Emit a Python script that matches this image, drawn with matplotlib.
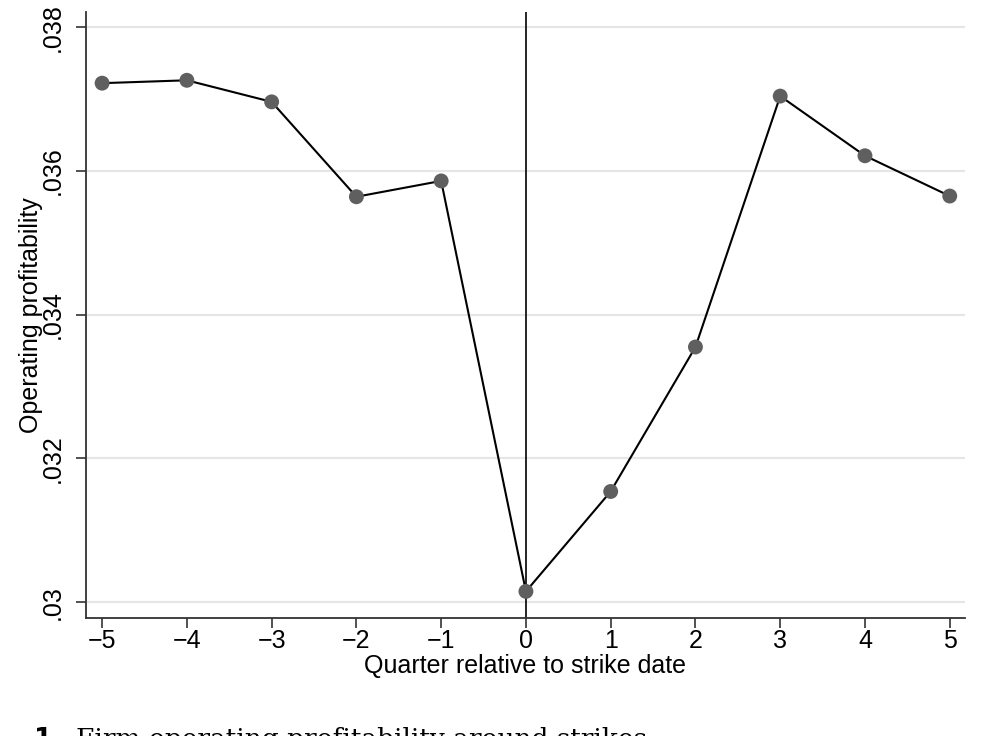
import numpy as np
import matplotlib
matplotlib.use("Agg")
import matplotlib.pyplot as plt
from matplotlib.ticker import FuncFormatter

# quarters relative to strike and mean operating profitability
quarters = [-5, -4, -3, -2, -1, 0, 1, 2, 3, 4, 5]
profit = [0.03722, 0.03726, 0.03696, 0.03564, 0.03586, 0.03015,
          0.03154, 0.03355, 0.03704, 0.03621, 0.03565]
yticks = [0.030, 0.032, 0.034, 0.036, 0.038]
xticks = list(range(-5, 6))

plt.rcParams['font.family'] = ['Liberation Sans', 'DejaVu Sans']

fig = plt.figure(figsize=(9.83, 7.36), dpi=100)
ax = fig.add_axes([86 / 983, 1 - 618 / 736, (965 - 86) / 983, (618 - 12) / 736])

for y in yticks:
    ax.axhline(y, color='#e6e6e6', lw=1.6, zorder=0)
ax.axvline(0, color='black', lw=1.2, zorder=1)
ax.plot(quarters, profit, color='black', lw=1.5, zorder=2)
ax.scatter(quarters, profit, s=115, color='#5f5f5f', zorder=3, edgecolors='none')

ax.set_xlim(-5.19, 5.18)
ax.set_ylim(0.02978, 0.03821)
ax.set_xticks(xticks)
ax.set_xticklabels([str(x).replace('-', '\u2212') for x in xticks])
ax.set_yticks(yticks)


def fmt(v, p):
    s = ('%.3f' % v).lstrip('0').rstrip('0')
    return s


ax.yaxis.set_major_formatter(FuncFormatter(fmt))
for lab in ax.get_yticklabels():
    lab.set_rotation(90)
    lab.set_va('center')

ax.tick_params(axis='both', labelsize=18, length=7, width=1.2, color='#333333')
ax.tick_params(axis='y', pad=8)
ax.tick_params(axis='x', pad=1)
for s in ['top', 'right']:
    ax.spines[s].set_visible(False)
for s in ['left', 'bottom']:
    ax.spines[s].set_linewidth(1.3)
    ax.spines[s].set_color('#333333')

ax.set_xlabel('Quarter relative to strike date', fontsize=18, labelpad=1)
ax.set_ylabel('Operating profitability', fontsize=18, labelpad=-1)

# figure caption, clipped by the bottom edge as in the source page
fig.text(33 / 983, 1 - 727 / 736, r'$\mathbf{1.}$', fontsize=19, va='top', ha='left',
         family='DejaVu Serif')
fig.text(76 / 983, 1 - 727 / 736, 'Firm operating profitability around strikes', fontsize=19,
         va='top', ha='left', family='DejaVu Serif')

fig.savefig('out.png', dpi=100)
